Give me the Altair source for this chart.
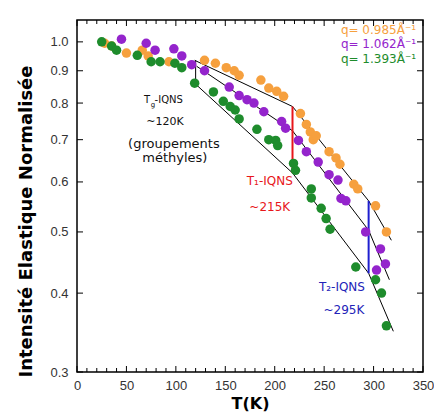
import altair as alt
import pandas as pd

# ---------------- data ----------------
series_names = ["q= 0.985Å⁻¹", "q= 1.062Å⁻¹", "q= 1.393Å⁻¹"]
series_colors = ["#F6A03E", "#9424CC", "#1E8C2C"]

orange_T = [28, 35, 50, 66, 72, 93, 129, 140, 151, 159, 164, 186, 194, 202, 209,
            226, 232, 236, 239, 242, 255, 262, 266, 280, 284, 302, 313]
orange_I = [0.995, 0.985, 0.96, 0.97, 0.95, 0.93, 0.935, 0.925, 0.91, 0.90, 0.885,
            0.87, 0.845, 0.835, 0.82, 0.77, 0.74, 0.72, 0.70, 0.71, 0.67, 0.655,
            0.64, 0.595, 0.585, 0.55, 0.50]

purple_T = [45, 70, 79, 98, 106, 116, 129, 154, 164, 172, 179, 189, 207, 211, 224,
            232, 244, 255, 264, 267, 272, 292, 303, 307, 312]
purple_I = [1.01, 0.995, 0.97, 0.975, 0.95, 0.92, 0.90, 0.848, 0.822, 0.81, 0.80,
            0.775, 0.748, 0.73, 0.698, 0.67, 0.645, 0.616, 0.604, 0.565, 0.56,
            0.50, 0.435, 0.47, 0.445]

green_T = [25, 35, 40, 61, 75, 84, 99, 106, 119, 138, 148, 155, 160, 164, 182, 194,
           201, 203, 219, 221, 237, 237, 247, 252, 256, 282, 302, 308, 313]
green_I = [1.0, 0.985, 0.97, 0.952, 0.93, 0.93, 0.925, 0.91, 0.86, 0.833, 0.805,
           0.79, 0.78, 0.755, 0.727, 0.70, 0.698, 0.685, 0.642, 0.626, 0.585, 0.566,
           0.545, 0.525, 0.505, 0.44, 0.42, 0.40, 0.355]

# fitted piecewise lines
fit_orange_T = [119, 218, 295, 318]
fit_orange_I = [0.935, 0.79, 0.56, 0.485]
fit_purple_T = [121, 218, 295, 316]
fit_purple_I = [0.915, 0.723, 0.503, 0.42]
fit_green_T = [119, 218, 295, 320]
fit_green_I = [0.86, 0.62, 0.43, 0.348]

# transition markers
mark_T = [120, 218, 295]
mark_lo = [0.86, 0.62, 0.43]
mark_hi = [0.935, 0.79, 0.56]
mark_colors = ["black", "#E8161B", "#1F1FD0"]
mark_widths = [1, 2, 2]

# axis ticks
x_major = [0, 50, 100, 150, 200, 250, 300, 350]
x_minor = [v for v in range(10, 350, 10) if v % 50 != 0]
y_ticks = [0.3, 0.4, 0.5, 0.6, 0.7, 0.8, 0.9, 1.0]
X_DOMAIN = [0, 350]
Y_DOMAIN = [0.3, 1.083]

# annotations (centered)
ann_text = ["~120K", "(groupements", "méthyles)", "T₁-IQNS", "~215K", "T₂-IQNS", "~295K"]
ann_T = [89, 98, 99, 195, 195, 268, 270]
ann_I = [0.746, 0.689, 0.654, 0.602, 0.547, 0.409, 0.376]
ann_color = ["#111111", "#111111", "#111111", "#E8161B", "#E8161B", "#2323B8", "#2323B8"]
ann_size = [11, 13, 13, 12, 12, 12, 12]

# legend text (right-aligned)
leg_T = [343, 343, 343]
leg_I = [1.044, 0.992, 0.939]

# ---------------- chart ----------------
xs = alt.Scale(domain=X_DOMAIN, nice=False, zero=False)
ys = alt.Scale(type="log", domain=Y_DOMAIN, nice=False)

x_axis = alt.Axis(values=x_major, ticks=False, domain=False, grid=False,
                  labelFont="Liberation Sans", labelFontSize=13, labelColor="#333333",
                  labelPadding=7, labelFlush=False,
                  titleFont="DejaVu Sans", titleFontWeight="bold", titleFontSize=16,
                  titleColor="black", titlePadding=3)
y_axis = alt.Axis(values=y_ticks, format=".1f", ticks=False, domain=False, grid=False,
                  labelFont="Liberation Sans", labelFontSize=13, labelColor="#333333",
                  labelPadding=9, labelFlush=False,
                  titleFont="DejaVu Sans", titleFontWeight="bold", titleFontSize=18,
                  titleColor="black", titlePadding=14, titleY=201)

X = alt.X("T:Q", scale=xs, axis=x_axis, title="T(K)")
Y = alt.Y("I:Q", scale=ys, axis=y_axis, title="Intensité Elastique Normalisée")

pts = pd.concat([
    pd.DataFrame({"T": orange_T, "I": orange_I, "q": series_names[0]}),
    pd.DataFrame({"T": purple_T, "I": purple_I, "q": series_names[1]}),
    pd.DataFrame({"T": green_T, "I": green_I, "q": series_names[2]}),
])
fits = pd.concat([
    pd.DataFrame({"T": fit_orange_T, "I": fit_orange_I, "s": "o", "k": range(4)}),
    pd.DataFrame({"T": fit_purple_T, "I": fit_purple_I, "s": "p", "k": range(4)}),
    pd.DataFrame({"T": fit_green_T, "I": fit_green_I, "s": "g", "k": range(4)}),
])
marks = pd.DataFrame({"T": mark_T, "I": mark_lo, "I2": mark_hi,
                      "c": mark_colors, "w": mark_widths})

points = alt.Chart(pts).mark_circle(size=90, opacity=1).encode(
    x=X, y=Y,
    color=alt.Color("q:N", scale=alt.Scale(domain=series_names, range=series_colors),
                    legend=None),
)
fit_lines = alt.Chart(fits).mark_line(color="black", strokeWidth=1).encode(
    x=X, y=Y, detail="s:N", order="k:Q")
rules = alt.Chart(marks).mark_rule().encode(
    x=X, y=Y, y2="I2:Q",
    color=alt.Color("c:N", scale=None),
    strokeWidth=alt.StrokeWidth("w:Q", scale=None))

def tick_layer(df, orient, size, xo=0, yo=0):
    return alt.Chart(df).mark_tick(orient=orient, size=size, thickness=1,
                                   color="black", xOffset=xo, yOffset=yo,
                                   opacity=1).encode(x=X, y=Y)

bottom_major = pd.DataFrame({"T": x_major, "I": Y_DOMAIN[0]})
bottom_minor = pd.DataFrame({"T": x_minor, "I": Y_DOMAIN[0]})
top_major = pd.DataFrame({"T": x_major, "I": Y_DOMAIN[1]})
top_minor = pd.DataFrame({"T": x_minor, "I": Y_DOMAIN[1]})
left_t = pd.DataFrame({"T": X_DOMAIN[0], "I": y_ticks})
right_t = pd.DataFrame({"T": X_DOMAIN[1], "I": y_ticks})

ticks = [
    tick_layer(bottom_major, "vertical", 6, yo=-3),
    tick_layer(bottom_minor, "vertical", 4, yo=-2),
    tick_layer(top_major, "vertical", 6, yo=3),
    tick_layer(top_minor, "vertical", 4, yo=2),
    tick_layer(left_t, "horizontal", 6, xo=3),
    tick_layer(right_t, "horizontal", 6, xo=-3),
]

ann = pd.DataFrame({"T": ann_T, "I": ann_I, "label": ann_text,
                    "c": ann_color, "fs": ann_size})
ann_layer = alt.Chart(ann).mark_text(font="DejaVu Sans", align="center",
                                     baseline="middle").encode(
    x=X, y=Y, text="label:N",
    color=alt.Color("c:N", scale=None),
    size=alt.Size("fs:Q", scale=None))

# T_g-IQNS composed of parts
tg_main = pd.DataFrame({"T": [74.0], "I": [0.809], "label": ["T"]})
tg_sub = pd.DataFrame({"T": [74.5], "I": [0.809], "label": ["g"]})
tg_rest = pd.DataFrame({"T": [78.5], "I": [0.809], "label": ["-IQNS"]})
tg1 = alt.Chart(tg_main).mark_text(font="DejaVu Sans", fontSize=10, align="right",
                                   baseline="middle", color="#111111").encode(
    x=X, y=Y, text="label:N")
tg2 = alt.Chart(tg_sub).mark_text(font="DejaVu Sans", fontSize=7, align="left",
                                  baseline="middle", dy=5, color="#111111").encode(
    x=X, y=Y, text="label:N")
tg3 = alt.Chart(tg_rest).mark_text(font="DejaVu Sans", fontSize=10, align="left",
                                   baseline="middle", color="#111111").encode(
    x=X, y=Y, text="label:N")

leg = pd.DataFrame({"T": leg_T, "I": leg_I, "label": series_names, "c": series_colors})
leg_layer = alt.Chart(leg).mark_text(font="DejaVu Sans", fontSize=12, align="right",
                                     baseline="middle").encode(
    x=X, y=Y, text="label:N", color=alt.Color("c:N", scale=None))

chart = alt.layer(
    fit_lines, rules, points, *ticks, ann_layer, tg1, tg2, tg3, leg_layer
).resolve_scale(color="independent").properties(
    width=346, height=352,
    padding={"left": 69, "top": 12, "right": 11, "bottom": 42},
    autosize=alt.AutoSizeParams(type="none"),
).configure_view(stroke="black", strokeWidth=1.5)

chart.save("out.html", embed_options={"renderer": "svg", "actions": False})
